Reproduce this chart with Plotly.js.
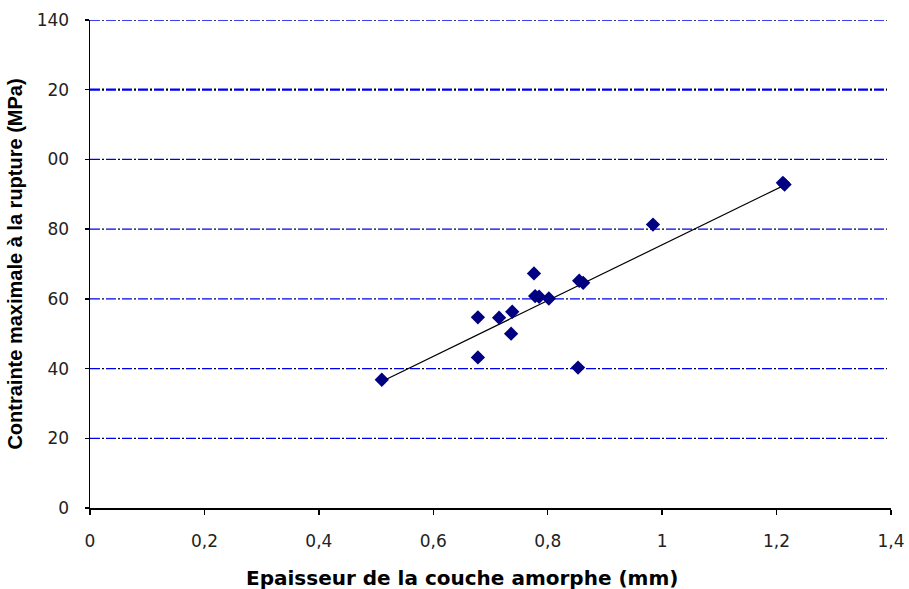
<!DOCTYPE html>
<html><head><meta charset="utf-8">
<script src="https://cdn.plot.ly/plotly-3.0.1.min.js"></script>
<style>html,body{margin:0;padding:0;background:#fff;}#chart{width:909px;height:589px;}</style>
</head><body><div id="chart"></div>
<script>
// data
const thickness = [0.510, 0.678, 0.678, 0.715, 0.738, 0.736, 0.776, 0.778, 0.785, 0.802, 0.853, 0.855, 0.862, 0.984, 1.211, 1.214];
const stress    = [36.8, 43.2, 54.7, 54.6, 56.3, 50.0, 67.3, 60.8, 60.6, 60.1, 40.3, 65.2, 64.6, 81.3, 93.3, 92.8];
const yTickVals = [0, 20, 40, 60, 80, 100, 120, 140];
const yTickText = ['0', '20', '40', '60', '80', '00', '20', '140'];
const xTickVals = [0, 0.2, 0.4, 0.6, 0.8, 1, 1.2, 1.4];
const xTickText = ['0', '0,2', '0,4', '0,6', '0,8', '1', '1,2', '1,4'];
// trendline endpoints (x) and coefficients
const trendX = [0.510, 1.214];
const trendSlope = 80.0;
const trendIntercept = -4.5;
const boldGridValue = 120;
const xTitleText = 'Epaisseur de la couche amorphe (mm)';
const yTitleText = 'Contrainte maximale à la rupture (MPa)';

const trendY = trendX.map(x => trendSlope * x + trendIntercept);

const tickFont = {family: 'DejaVu Sans, Arial, sans-serif', size: 17, color: '#222'};
const yTitleFont = {family: 'Liberation Sans, Arial, sans-serif', size: 20, color: '#000', weight: 'bold'};
const xTitleFont = {family: 'DejaVu Sans, Arial, sans-serif', size: 20, color: '#000', weight: 'bold'};

// gridlines: blue dashes with a black dot in each gap (dash-dot in two colours)
const shapes = [];
yTickVals.filter(v => v > 0).forEach(v => {
  const w = v === boldGridValue ? 2.2 : 1.3;
  shapes.push({type: 'line', xref: 'paper', x0: 0, x1: 0.995, yref: 'y', y0: v, y1: v, layer: 'below',
               line: {color: '#0000ee', width: w, dash: '10px,6px'}});
  shapes.push({type: 'line', xref: 'paper', x0: 0, x1: 0.995, yref: 'y', y0: v, y1: v, layer: 'below',
               line: {color: '#000', width: w, dash: '0px,12px,2px,2px'}});
});

const data = [
  {x: trendX, y: trendY, type: 'scatter', mode: 'lines', line: {color: '#000', width: 1.2}, hoverinfo: 'skip'},
  {x: thickness, y: stress, type: 'scatter', mode: 'markers',
   marker: {symbol: 'diamond', size: 11, color: '#000080'}}
];

const layout = {
  width: 909, height: 589,
  margin: {l: 90, r: 18, t: 20, b: 81},
  paper_bgcolor: '#fff', plot_bgcolor: '#fff',
  showlegend: false,
  separators: ', ',
  xaxis: {
    range: [0, 1.4], tickvals: xTickVals, ticktext: xTickText,
    showgrid: false, zeroline: false,
    showline: true, linecolor: '#000', linewidth: 1.5,
    ticks: 'outside', ticklen: 5, tickwidth: 1.5, tickcolor: '#000',
    ticklabelstandoff: 12,
    tickfont: tickFont
  },
  yaxis: {
    range: [0, 140], tickvals: yTickVals, ticktext: yTickText,
    showgrid: false,
    zeroline: false,
    showline: true, linecolor: '#000', linewidth: 1.5,
    ticks: 'outside', ticklen: 4, tickwidth: 1.5, tickcolor: '#000',
    ticklabelstandoff: 12,
    tickfont: tickFont,
    title: {text: yTitleText, font: yTitleFont, standoff: 8}
  },
  annotations: [
    {text: xTitleText, font: xTitleFont, showarrow: false,
     xref: 'paper', yref: 'paper', x: 0.464, y: -0.143, xanchor: 'center', yanchor: 'middle'}
  ],
  shapes: shapes
};

Plotly.newPlot('chart', data, layout, {displayModeBar: false, staticPlot: true});
</script></body></html>
